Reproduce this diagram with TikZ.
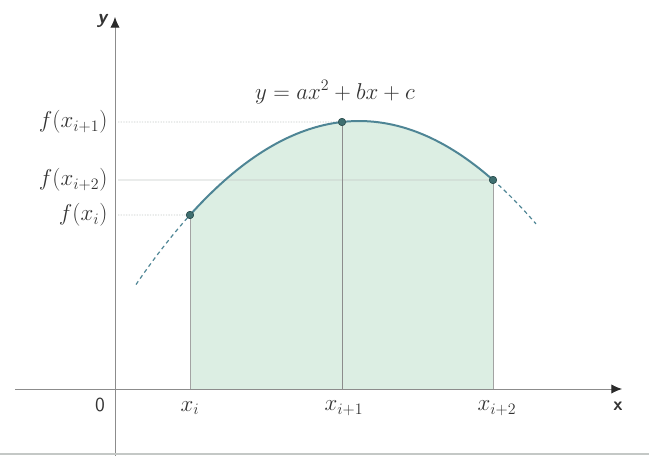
\documentclass[tikz,border=0pt]{standalone}
\usetikzlibrary{arrows.meta}
\definecolor{fillg}{HTML}{DCEEE3}
\definecolor{curvec}{HTML}{4E8595}
\definecolor{dotc}{HTML}{3F6F70}
\definecolor{axisc}{HTML}{8C8C8C}
\definecolor{gridc}{HTML}{C4C8C6}
\definecolor{tipc}{HTML}{2A2A2A}
\definecolor{textc}{HTML}{333333}
\begin{document}
\begin{tikzpicture}[x=0.0264583cm,y=-0.0264583cm,
  axis/.style={draw=axisc,line width=0.7pt},
  grid/.style={draw=gridc,line width=0.6pt},
  vline/.style={draw=axisc!80,line width=0.6pt},
  curve/.style={draw=curvec,line width=1.5pt},
  dashcurve/.style={draw=curvec,line width=0.9pt,dash pattern=on 3pt off 2.5pt},
  dot/.style={circle,fill=dotc,draw=dotc!70!black,inner sep=0pt,minimum size=5.5pt},
  lab/.style={font=\fontsize{17}{20}\selectfont,text=textc,inner sep=1pt},
  axlab/.style={font=\sffamily\bfseries\fontsize{14}{16}\selectfont,text=textc,inner sep=1pt},
  tip/.style={-{Latex[length=8pt,width=7pt,color=tipc]}}]
\useasboundingbox (0,0) rectangle (649,456);
\def\S{0.05733}\def\H{359.07}\def\K{121.04}
% fill
\fill[fillg] (190,389) -- plot[domain=190:493,samples=60] (\x,{((\x-\H)*\S)^2+\K}) -- (493,389) -- cycle;
% nodes
\node[dot] (P0) at (190,{((190-\H)*\S)^2+\K}) {};
\node[dot] (P1) at (342,{((342-\H)*\S)^2+\K}) {};
\node[dot] (P2) at (493,{((493-\H)*\S)^2+\K}) {};
\coordinate (Ytop) at (115,17);
\coordinate (Ybot) at (115,456);
\coordinate (Xleft) at (15,389);
\coordinate (Xright) at (622,389);
\coordinate (B0) at (190,389);
\coordinate (B1) at (342,389);
\coordinate (B2) at (493,389);
\coordinate (Y0) at (118,215);
\coordinate (Y1) at (118,122);
\coordinate (Y2) at (118,180);
\coordinate (BL) at (0,454);
\coordinate (BR) at (649,454);
% grid lines
\draw[grid,dash pattern=on 1pt off 1pt] (Y1) -- (P1);
\draw[grid] (Y2) -- (P2);
\draw[grid,dash pattern=on 1pt off 1pt] (Y0) -- (P0);
\draw[vline] (P0) -- (B0);
\draw[vline,draw=axisc] (P1) -- (B1);
\draw[vline] (P2) -- (B2);
% curve
\draw[curve] plot[domain=190:493,samples=80] (\x,{((\x-\H)*\S)^2+\K});
\draw[dashcurve] plot[domain=136:190,samples=20] (\x,{((\x-\H)*\S)^2+\K});
\draw[dashcurve] plot[domain=493:536,samples=20] (\x,{((\x-\H)*\S)^2+\K});
\node[dot] at (P0) {};
\node[dot] at (P1) {};
\node[dot] at (P2) {};
% axes
\draw[axis,tip] (Ybot) -- (Ytop);
\draw[axis,tip] (Xleft) -- (Xright);
\draw[draw=gridc,line width=0.8pt] (BL) -- (BR);
% labels
\node[axlab,font=\sffamily\itshape\bfseries\fontsize{15}{17}\selectfont] (ylab) at (102,21) {y};
\node[axlab] (xlab) at (618,406) {x};
\node[axlab,font=\sffamily\fontsize{15}{17}\selectfont] (zero) at (100,405) {0};
\node[lab] (fx0) [left] at (109,215) {$f(x_i)$};
\node[lab] (fx1) [left] at (109,122) {$f(x_{i+1})$};
\node[lab] (fx2) [left] at (109,180) {$f(x_{i+2})$};
\node[lab] (xi0) at (190,408) {$x_i$};
\node[lab] (xi1) at (344,408) {$x_{i+1}$};
\node[lab] (xi2) at (497,408) {$x_{i+2}$};
\node[lab] (eq) at (335,92) {$y=ax^2+bx+c$};
\end{tikzpicture}
\end{document}
